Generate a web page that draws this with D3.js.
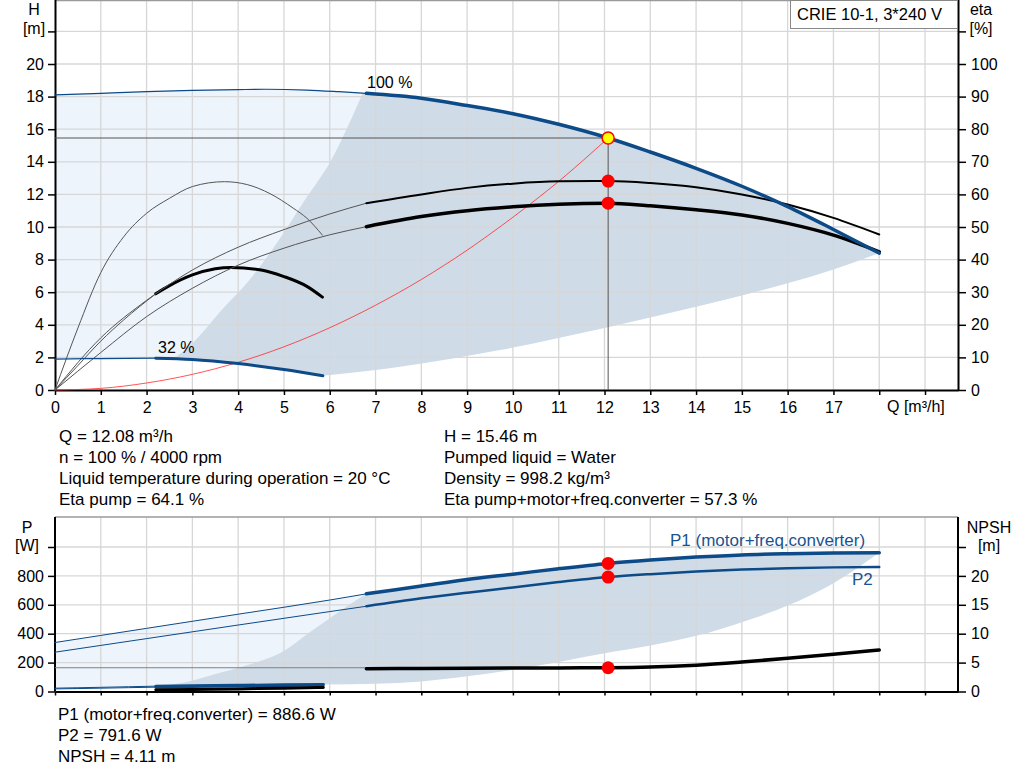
<!DOCTYPE html>
<html>
<head>
<meta charset="utf-8">
<script src="https://cdn.jsdelivr.net/npm/d3@7"></script>
<style>
    body { margin: 0; background: #fff; }
    svg { display: block; font-family: "Liberation Sans", Arial, sans-serif; font-size: 16px; }
</style>
</head>
<body>
<svg id="chart" width="1024" height="781"></svg>
<script>
// ---- tick values ----
const qTicks = [0, 1, 2, 3, 4, 5, 6, 7, 8, 9, 10, 11, 12, 13, 14, 15, 16, 17];
const qGrid = [1, 2, 3, 4, 5, 6, 7, 8, 9, 10, 11, 12, 13, 14, 15, 16, 17, 18, 19];
const hTicks = [0, 2, 4, 6, 8, 10, 12, 14, 16, 18, 20];
const hGrid = [2, 4, 6, 8, 10, 12, 14, 16, 18, 20, 22];
const etaTicks = [0, 10, 20, 30, 40, 50, 60, 70, 80, 90, 100];
const pTicks = [0, 200, 400, 600, 800];
const pGrid = [200, 400, 600, 800, 1000];
const npshTicks = [0, 5, 10, 15, 20];

// ---- QH curves [Q m3/h, H m] ----
const qh100Thin = [[0, 18.1], [1, 18.2], [2, 18.3], [3, 18.38], [4, 18.43], [4.6, 18.45], [5.5, 18.4], [6.2, 18.3], [6.8, 18.2]];
const qh100Thick = [[6.8, 18.2], [8, 17.9], [9, 17.45], [10, 16.95], [11, 16.3], [12.08, 15.46], [13, 14.6], [14, 13.6], [15, 12.5], [16, 11.25], [17, 9.85], [18, 8.4]];
const qh32Thin = [[0, 1.9], [1, 1.93], [2.2, 1.95]];
const qh32Thick = [[2.2, 1.95], [3, 1.87], [4, 1.62], [5, 1.26], [5.85, 0.87]];
const systemCurve = [[0, 0], [1, 0.1], [2, 0.43], [3, 0.96], [4, 1.7], [5, 2.65], [6, 3.82], [7, 5.2], [8, 6.78], [9, 8.58], [10, 10.6], [11, 12.8], [12.08, 15.46]];

// recommended operating range (top chart)
const topGrayLeft = [[2.6, 1.93], [3.0, 2.87], [3.67, 5.0], [4.25, 6.76], [4.84, 9.0], [5.42, 11.5], [6.07, 14.3], [6.4, 16.2], [6.72, 18.2]];
const topGrayLower = [[5.85, 0.87], [7, 1.23], [7.53, 1.43], [9.72, 2.45], [12, 3.8], [14, 5.1], [16, 6.55], [17, 7.4], [18, 8.4]];

// ---- efficiency curves [Q m3/h, eta %] ----
const etaPumpThin = [[0, 0], [1, 16], [2, 27.5], [3, 36.8], [4, 43.8], [5, 49.2], [6, 54], [6.8, 57.3]];
const etaPumpThick = [[6.8, 57.3], [8, 60], [9, 62], [10, 63.3], [11, 64], [12.08, 64.1], [13, 63.5], [14, 62.2], [15, 60], [16, 56.9], [17, 52.8], [18, 47.7]];
const etaTotalThin = [[0, 0], [1, 11.5], [2, 22.5], [3, 31.2], [4, 38.3], [5, 43.5], [6, 47.6], [6.8, 50.1]];
const etaTotalThick = [[6.8, 50.1], [8, 53.2], [9, 55], [10, 56.2], [11, 57], [12.08, 57.3], [13, 56.5], [14, 55.3], [15, 53.7], [16, 51.1], [17, 47.5], [18, 42.4]];
const etaPumpMin = [[0, 0], [0.5, 19], [1, 36], [1.5, 47], [2, 54.2], [2.5, 58.8], [3, 62.4], [3.7, 63.9], [4.2, 63], [4.7, 60.2], [5.2, 55.8], [5.5, 52.7], [5.84, 47.5]];
const etaTotalMinThin = [[0, 0], [0.5, 7.5], [1, 15], [1.5, 21.5], [2.2, 29.5]];
const etaTotalMinThick = [[2.2, 29.5], [2.5, 32], [3, 35.3], [3.5, 37.2], [3.85, 37.6], [4.5, 36.8], [5, 34.8], [5.5, 31.8], [5.84, 28.5]];

// ---- power curves [Q m3/h, P W] ----
const p1Thin = [[0, 339], [2, 437], [4, 535], [6, 633], [6.8, 676]];
const p1Thick = [[6.8, 676], [8, 730], [9, 775], [10, 812], [11, 850], [12.08, 886.6], [13, 910], [14, 930], [15, 945], [16, 953], [17, 958], [18, 961]];
const p2Thin = [[0, 272], [2, 366], [4, 460], [6, 553], [6.8, 590]];
const p2Thick = [[6.8, 590], [8, 645], [9, 684], [10, 720], [11, 757], [12.08, 791.6], [13, 812], [14, 830], [15, 844], [16, 853], [17, 859], [18, 862]];
const p1MinThin = [[0, 23], [1, 29], [2.2, 37]];
const p1MinThick = [[2.2, 37], [3, 40], [4, 43], [5, 46], [5.86, 48]];
const p2MinThin = [[0, 18], [1, 23], [2.2, 30]];
const p2MinThick = [[2.2, 30], [3, 33], [4, 37], [5, 40], [5.86, 43]];

// recommended operating range (bottom chart)
const botGrayLeft = [[2.3, 38], [3, 75], [3.6, 129], [4.3, 192], [4.91, 265], [5.64, 427], [6.37, 588], [6.8, 676]];
const botGrayLower = [[5.86, 48], [7, 53], [8, 70], [9, 105], [10, 150], [11, 205], [12, 265], [13, 318], [14, 385], [15, 480], [16, 595], [17, 750], [18, 961]];

// ---- NPSH curves [Q m3/h, NPSH m] ----
const npshThick = [[6.8, 3.95], [8, 4.0], [9, 4.02], [10, 4.05], [11, 4.08], [12.08, 4.11], [13, 4.22], [14, 4.55], [15, 5.1], [16, 5.75], [17, 6.45], [18, 7.2]];
const npshMinThick = [[2.2, 0.3], [3, 0.35], [4, 0.45], [5, 0.58], [5.86, 0.7]];

// ---- duty point ----
const opQ = 12.08, opH = 15.46, opEtaPump = 64.1, opEtaTotal = 57.3;
const opP1 = 886.6, opP2 = 791.6, opNpsh = 4.11;

// ---- texts ----
const infoLeft = ['Q = 12.08 m³/h', 'n = 100 % / 4000 rpm', 'Liquid temperature during operation = 20 °C', 'Eta pump = 64.1 %'];
const infoRight = ['H = 15.46 m', 'Pumped liquid = Water', 'Density = 998.2 kg/m³', 'Eta pump+motor+freq.converter = 57.3 %'];
const infoBottom = ['P1 (motor+freq.converter) = 886.6 W', 'P2 = 791.6 W', 'NPSH = 4.11 m'];
const productName = 'CRIE 10-1, 3*240 V';

const BLUE = '#0c4a88';
const LIGHT = '#edf4fc';
const GRAY_AREA = '#cfdbe6';
const GRID = '#d7d7d7';

const svg = d3.select('#chart');

// Scales
const x = d3.scaleLinear().domain([0, 19.72]).range([55, 958]);
const yH = d3.scaleLinear().domain([0, 24]).range([390, -1.2]);
const yEta = d3.scaleLinear().domain([0, 120]).range([390, -1.2]);
const yP = d3.scaleLinear().domain([0, 1000]).range([691.5, 547]);
const yNpsh = d3.scaleLinear().domain([0, 25]).range([691.5, 547]);
const topY0 = 0.5, topY1 = 390;
const botY0 = 517, botY1 = 691.5;

const rev = arr => arr.slice().reverse();

// every curve is monotone in Q, so monotoneX keeps them smooth
function curveGen(sy) {
    return d3.line()
        .x(d => x(d[0]))
        .y(d => sy(d[1]))
        .curve(d3.curveMonotoneX);
}

// closed outline built from several edges
function regionPath(edges, sy) {
    const line = curveGen(sy);
    return edges.map((e, i) => {
        const s = line(e);
        return i ? 'L' + s.slice(1) : s;
    }).join('') + 'Z';
}

function drawCurve(data, sy, color, width) {
    svg.append('path')
        .datum(data)
        .attr('fill', 'none')
        .attr('stroke', color)
        .attr('stroke-width', width)
        .attr('stroke-linecap', 'round')
        .attr('d', curveGen(sy));
}

// ---------- shaded areas ----------
svg.append('path')
    .attr('fill', LIGHT)
    .attr('d', regionPath([qh100Thin, rev(qh32Thick), rev(qh32Thin)], yH));
svg.append('path')
    .attr('fill', GRAY_AREA)
    .attr('d', regionPath([topGrayLeft, qh100Thick, rev(topGrayLower),
        rev(qh32Thick.filter(d => d[0] > topGrayLeft[0][0] && d[0] < topGrayLower[0][0]))], yH));

svg.append('path')
    .attr('fill', LIGHT)
    .attr('d', regionPath([p1Thin, rev(p1MinThick), rev(p1MinThin)], yP));
svg.append('path')
    .attr('fill', GRAY_AREA)
    .attr('d', regionPath([botGrayLeft, p1Thick, rev(botGrayLower),
        rev(p1MinThick.filter(d => d[0] > botGrayLeft[0][0] && d[0] < botGrayLower[0][0]))], yP));

// ---------- grid ----------
function gridLines(y0, y1, hValues, sy) {
    const g = svg.append('g').attr('stroke', GRID).attr('stroke-width', 1.3);
    g.selectAll('.gx').data(qGrid).join('line')
        .attr('x1', d => x(d)).attr('x2', d => x(d))
        .attr('y1', y0).attr('y2', y1);
    g.selectAll('.gy').data(hValues).join('line')
        .attr('x1', x.range()[0]).attr('x2', x.range()[1])
        .attr('y1', d => sy(d)).attr('y2', d => sy(d));
}
gridLines(topY0, topY1, hGrid, yH);
gridLines(botY0, botY1, pGrid, yP);

// frame tops
[topY0, botY0].forEach(yy => {
    svg.append('line')
        .attr('x1', x.range()[0]).attr('x2', x.range()[1])
        .attr('y1', yy).attr('y2', yy)
        .attr('stroke', '#9a9a9a').attr('stroke-width', 1.5);
});

// ---------- axes ----------
function styleAxis(g) {
    g.attr('font-size', null).attr('font-family', null);
    g.select('.domain').attr('stroke', '#000').attr('stroke-width', 2);
    g.selectAll('.tick line').attr('stroke', '#000').attr('stroke-width', 1.5);
    g.selectAll('.tick text').attr('fill', '#000');
}

svg.append('g')
    .attr('transform', `translate(${x.range()[0]},0)`)
    .call(d3.axisLeft(yH).tickValues(hGrid.concat([0])).tickSize(7).tickPadding(4).tickSizeOuter(0)
        .tickFormat(d => hTicks.includes(d) ? d : ''))
    .call(styleAxis);

svg.append('g')
    .attr('transform', `translate(${x.range()[1]},0)`)
    .call(d3.axisRight(yEta).tickValues(etaTicks.concat([110])).tickSize(8).tickPadding(5).tickSizeOuter(0)
        .tickFormat(d => etaTicks.includes(d) ? d : ''))
    .call(styleAxis);

svg.append('g')
    .attr('transform', `translate(0,${topY1})`)
    .call(d3.axisBottom(x).tickValues(qTicks.concat([18, 19])).tickSize(5).tickPadding(7).tickSizeOuter(0)
        .tickFormat(d => qTicks.includes(d) ? d : ''))
    .call(styleAxis);

svg.append('g')
    .attr('transform', `translate(${x.range()[0]},0)`)
    .call(d3.axisLeft(yP).tickValues(pGrid.concat([0])).tickSize(7).tickPadding(4).tickSizeOuter(0)
        .tickFormat(d => pTicks.includes(d) ? d : ''))
    .call(styleAxis)
    .call(g => g.select('.domain').attr('d', `M0,${botY1}V${botY0}`));

svg.append('g')
    .attr('transform', `translate(${x.range()[1]},0)`)
    .call(d3.axisRight(yNpsh).tickValues(npshTicks.concat([25])).tickSize(8).tickPadding(5).tickSizeOuter(0)
        .tickFormat(d => npshTicks.includes(d) ? d : ''))
    .call(styleAxis)
    .call(g => g.select('.domain').attr('d', `M0,${botY1}V${botY0}`));

svg.append('g')
    .attr('transform', `translate(0,${botY1})`)
    .call(d3.axisBottom(x).tickValues(qTicks.concat([18, 19])).tickSize(4).tickSizeOuter(0).tickFormat(''))
    .call(styleAxis);

// ---------- reference lines to duty point ----------
svg.append('line')
    .attr('x1', x(0)).attr('x2', x(opQ))
    .attr('y1', yH(opH)).attr('y2', yH(opH))
    .attr('stroke', '#555').attr('stroke-width', 1);
svg.append('line')
    .attr('x1', x(opQ)).attr('x2', x(opQ))
    .attr('y1', yH(opH)).attr('y2', yH(0))
    .attr('stroke', '#555').attr('stroke-width', 1);
svg.append('line')
    .attr('x1', x(0)).attr('x2', x(opQ))
    .attr('y1', yNpsh(opNpsh)).attr('y2', yNpsh(opNpsh))
    .attr('stroke', '#808080').attr('stroke-width', 1);

// ---------- curves, top chart ----------
svg.append('path')
    .datum(systemCurve)
    .attr('fill', 'none')
    .attr('stroke', '#ff2a2a')
    .attr('stroke-opacity', 0.8)
    .attr('stroke-width', 1)
    .attr('d', curveGen(yH));

drawCurve(etaPumpMin, yEta, '#555', 1);
drawCurve(etaTotalMinThin, yEta, '#555', 1);
drawCurve(etaTotalMinThick, yEta, '#000', 3);
drawCurve(etaPumpThin, yEta, '#555', 1);
drawCurve(etaPumpThick, yEta, '#000', 2);
drawCurve(etaTotalThin, yEta, '#555', 1);
drawCurve(etaTotalThick, yEta, '#000', 3.5);

drawCurve(qh32Thin, yH, BLUE, 1.2);
drawCurve(qh32Thick, yH, BLUE, 3);
drawCurve(qh100Thin, yH, BLUE, 1.2);
drawCurve(qh100Thick, yH, BLUE, 3.5);

// ---------- curves, bottom chart ----------
drawCurve(p2MinThin, yP, BLUE, 1);
drawCurve(p2MinThick, yP, BLUE, 2.5);
drawCurve(p1MinThin, yP, BLUE, 1);
drawCurve(p1MinThick, yP, BLUE, 3);
drawCurve(npshMinThick, yNpsh, '#000', 3);
drawCurve(p1Thin, yP, BLUE, 1);
drawCurve(p1Thick, yP, BLUE, 3.5);
drawCurve(p2Thin, yP, BLUE, 1);
drawCurve(p2Thick, yP, BLUE, 2.5);
drawCurve(npshThick, yNpsh, '#000', 3.5);

// ---------- duty point markers ----------
const redDots = [
    { sy: yEta, v: opEtaPump }, { sy: yEta, v: opEtaTotal },
    { sy: yP, v: opP1 }, { sy: yP, v: opP2 }, { sy: yNpsh, v: opNpsh }
];
svg.selectAll('.dot').data(redDots).join('circle')
    .attr('cx', x(opQ))
    .attr('cy', d => d.sy(d.v))
    .attr('r', 6.5)
    .attr('fill', '#ff0000');
svg.append('circle')
    .attr('cx', x(opQ)).attr('cy', yH(opH)).attr('r', 6)
    .attr('fill', '#ffff00').attr('stroke', '#ff0000').attr('stroke-width', 1.5);

// ---------- labels ----------
function label(txt, px, py, anchor, color, size) {
    svg.append('text')
        .attr('x', px).attr('y', py)
        .attr('text-anchor', anchor || 'start')
        .attr('fill', color || '#000')
        .style('font-size', size ? size + 'px' : null)
        .text(txt);
}
label('H', 34, 15, 'middle');
label('[m]', 34, 34, 'middle');
label('eta', 981, 15, 'middle');
label('[%]', 981, 34, 'middle');
label('Q [m³/h]', 887, 412);
label('100 %', 367, 88);
label('32 %', 158, 353);

label('P', 27, 533, 'middle');
label('[W]', 27, 551, 'middle');
label('NPSH', 989, 533, 'middle');
label('[m]', 989, 551, 'middle');
label('P1 (motor+freq.converter)', 670, 546, 'start', '#1a5391', 17);
label('P2', 852, 585, 'start', '#1a5391', 17);

// product box
svg.append('rect')
    .attr('x', 790.5).attr('y', 0.5).attr('width', 167).attr('height', 28)
    .attr('fill', '#fff').attr('stroke', '#888');
label(productName, 797, 20, 'start', '#000', 16.5);

// info block
infoLeft.forEach((t, i) => label(t, 59, 442 + i * 21, 'start', '#000', 17));
infoRight.forEach((t, i) => label(t, 444, 442 + i * 21, 'start', '#000', 17));
infoBottom.forEach((t, i) => label(t, 58, 720 + i * 21, 'start', '#000', 17));
</script>
</body>
</html>
